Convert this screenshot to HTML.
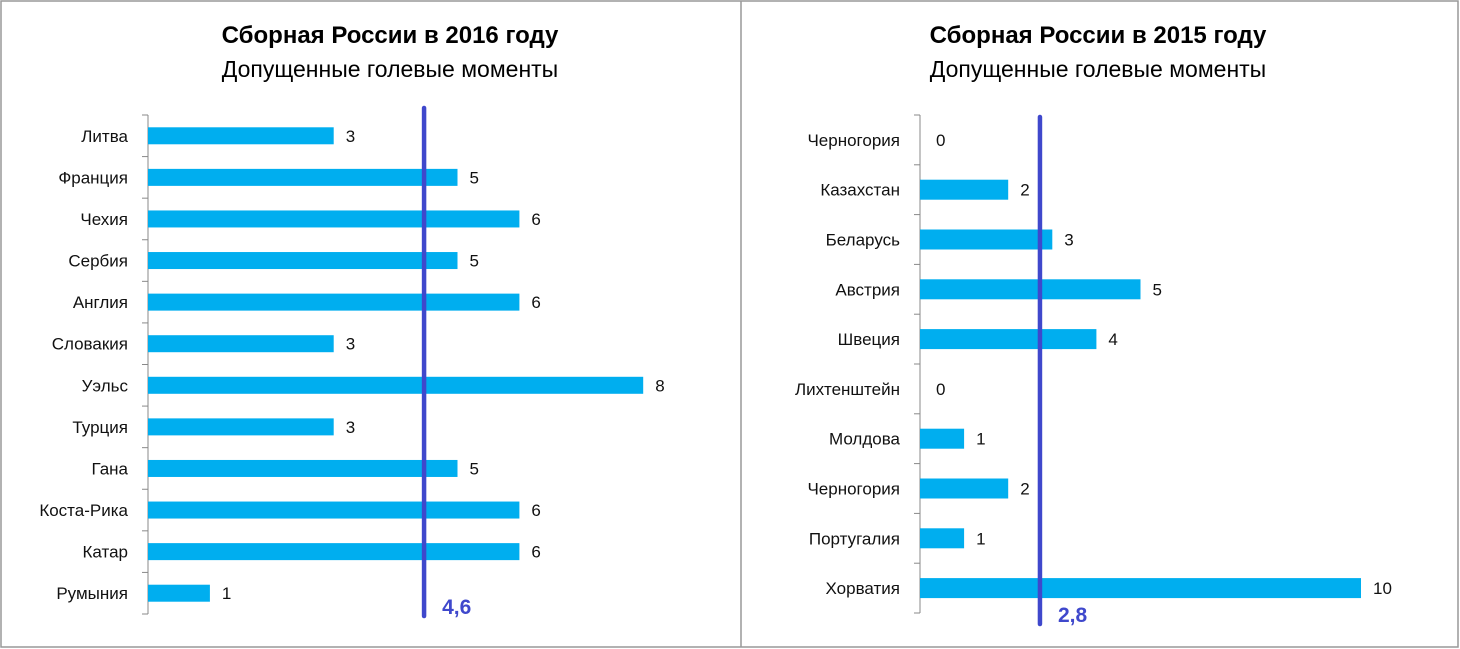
<!DOCTYPE html>
<html><head><meta charset="utf-8"><style>
body{margin:0;background:#fff;font-family:"Liberation Sans",sans-serif}
svg{display:block}
</style></head><body>
<svg id="s" width="1460" height="649" xmlns="http://www.w3.org/2000/svg">
<rect x="1" y="1" width="1457" height="646" fill="#fff" stroke="#999" stroke-width="1.5"/>
<line x1="741" y1="1" x2="741" y2="647" stroke="#999" stroke-width="1.5"/>
<text x="390" y="43" text-anchor="middle" font-size="24" font-weight="bold" fill="#000">Сборная России в 2016 году</text>
<text x="390" y="77" text-anchor="middle" font-size="23" fill="#000">Допущенные голевые моменты</text>
<text x="1098" y="43" text-anchor="middle" font-size="24" font-weight="bold" fill="#000">Сборная России в 2015 году</text>
<text x="1098" y="77" text-anchor="middle" font-size="23" fill="#000">Допущенные голевые моменты</text>
</svg>
<script>
const cats2016=["Литва","Франция","Чехия","Сербия","Англия","Словакия","Уэльс","Турция","Гана","Коста-Рика","Катар","Румыния"];
const vals2016=[3,5,6,5,6,3,8,3,5,6,6,1];
const avg2016=4.46;
const avgLabel2016="4,6";
const cats2015=["Черногория","Казахстан","Беларусь","Австрия","Швеция","Лихтенштейн","Молдова","Черногория","Португалия","Хорватия"];
const vals2015=[0,2,3,5,4,0,1,2,1,10];
const avg2015=2.72;
const avgLabel2015="2,8";
const svg=document.getElementById('s');
const NS="http://www.w3.org/2000/svg";
function mk(t,a){const e=document.createElementNS(NS,t);for(const k in a)e.setAttribute(k,a[k]);svg.appendChild(e);return e;}
function chart(p,cats,vals,avg,lab){
  const x=v=>p.x0+v*p.k;
  const band=(p.bottom-p.top)/cats.length;
  const yc=i=>p.top+band*(i+0.5);
  let ax=mk('line',{x1:p.x0,y1:p.top,x2:p.x0,y2:p.bottom,stroke:'#888','stroke-width':1});
  
  
  for(let i=0;i<=cats.length;i++){
    const t=mk('line',{x1:p.x0-6,y1:p.top+band*i,x2:p.x0,y2:p.top+band*i,stroke:'#888','stroke-width':1});
    
    
  }
  cats.forEach((c,i)=>{
    const l=mk('text',{x:p.x0-20,y:yc(i)+6,'text-anchor':'end','font-size':17,fill:'#111'});
    l.textContent=c;
    
    
    const w=x(vals[i])-p.x0;
    if(w>0){
      const b=mk('rect',{x:p.x0,y:yc(i)-p.bh/2,width:w,height:p.bh,fill:'#00aeef'});
      
      
    }
    const v=mk('text',{x:x(vals[i])+(w>0?12:16),y:yc(i)+6,'font-size':17,fill:'#111'});
    v.textContent=vals[i];
    
    
  });
  const ln=mk('line',{x1:x(avg),y1:p.ly1,x2:x(avg),y2:p.ly2,stroke:'#3f48cc','stroke-width':4.5,'stroke-linecap':'round'});
  
  
  const at=mk('text',{x:x(avg)+18,y:p.ly2-2,'font-size':21,'font-weight':'bold',fill:'#3f48cc'});
  at.textContent=lab;
  
  
}
chart({id:'left',x0:148,k:61.9,top:115,bottom:614,bh:17,ly1:108,ly2:616},cats2016,vals2016,avg2016,avgLabel2016);
chart({id:'right',x0:920,k:44.1,top:115,bottom:613,bh:20,ly1:117,ly2:624},cats2015,vals2015,avg2015,avgLabel2015);
</script>
</body></html>
